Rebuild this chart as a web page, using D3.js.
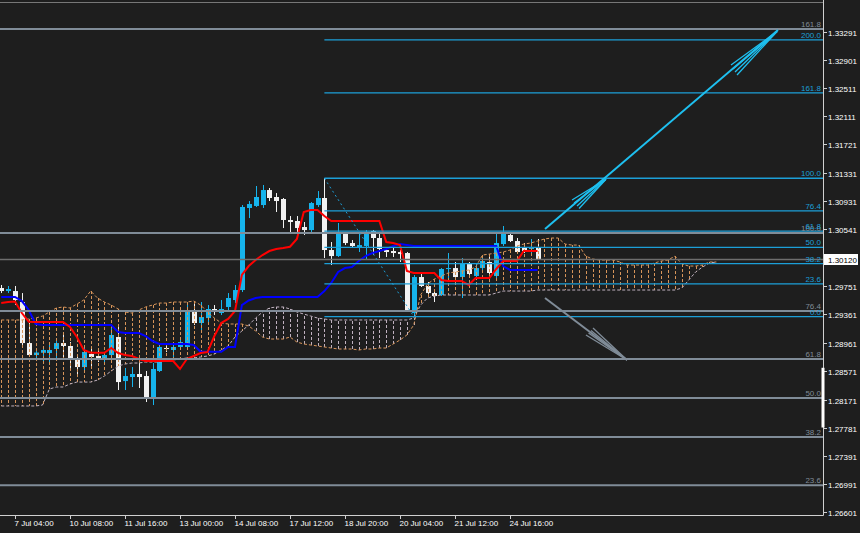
<!DOCTYPE html>
<html><head><meta charset="utf-8">
<script src="https://cdn.jsdelivr.net/npm/d3@7"></script>
<style>html,body{margin:0;padding:0;background:#1e1e1e;overflow:hidden}svg{display:block}</style>
</head><body><svg id="c" width="860" height="533"></svg>
<script>
// ---------- DATA (H4 bars, bar index 0 = 7 Jul 04:00) ----------
const firstBar = -2;
const timeLabels = ["7 Jul 04:00","10 Jul 08:00","11 Jul 16:00","13 Jul 00:00","14 Jul 08:00","17 Jul 12:00","18 Jul 20:00","20 Jul 04:00","21 Jul 12:00","24 Jul 16:00"];
const timeLabelBars = [0,8,16,24,32,40,48,56,64,72];

const openP = [1.29723,1.29681,1.29681,1.29528,1.28957,1.28790,1.28822,1.28818,1.28874,1.28957,
1.28916,1.28721,1.28623,1.28804,1.28777,1.28721,1.28790,1.29041,1.28428,1.28484,
1.28526,1.28498,1.28192,1.28568,1.28888,1.28860,1.28902,1.28902,1.29389,1.29236,
1.29305,1.29431,1.29375,1.29459,1.29556,1.29695,1.30837,1.30865,1.30878,1.31087,
1.30990,1.30962,1.30670,1.30656,1.30572,1.30530,1.30878,1.30976,1.30252,1.30168,
1.30475,1.30349,1.30294,1.30308,1.30517,1.30419,1.30252,1.30238,1.30224,1.30210,
1.29375,1.29876,1.29751,1.29653,1.29626,1.29988,1.30001,1.29876,1.30057,1.29890,
1.30001,1.30085,1.29890,1.30335,1.30461,1.30377,1.30280,1.30266,1.30280];
const highP = [1.29765,1.29751,1.29751,1.29653,1.29236,1.28860,1.28902,1.28930,1.29027,1.29097,
1.28971,1.28790,1.28902,1.28888,1.28860,1.28832,1.29180,1.29180,1.28610,1.28623,
1.28679,1.28568,1.28679,1.28957,1.28957,1.28957,1.29027,1.29528,1.29514,1.29528,
1.29486,1.29486,1.29556,1.29653,1.29765,1.30878,1.30934,1.31143,1.31157,1.31115,
1.31045,1.30976,1.30725,1.30725,1.30642,1.30920,1.31073,1.31254,1.30363,1.30628,
1.30503,1.30391,1.30489,1.30530,1.30530,1.30489,1.30294,1.30280,1.30252,1.30224,
1.29904,1.29946,1.29807,1.29695,1.30001,1.30210,1.30085,1.30141,1.30085,1.30071,
1.30155,1.30155,1.30475,1.30586,1.30489,1.30419,1.30349,1.30405,1.30405];
const lowP = [1.29653,1.29653,1.29486,1.28930,1.28763,1.28749,1.28679,1.28679,1.28749,1.28749,
1.28610,1.28484,1.28540,1.28623,1.28693,1.28679,1.28763,1.28303,1.28303,1.28345,
1.28331,1.28136,1.28094,1.28554,1.28832,1.28763,1.28874,1.28888,1.29208,1.29111,
1.29250,1.29347,1.29347,1.29417,1.29514,1.29667,1.30697,1.30851,1.30837,1.30934,
1.30781,1.30558,1.30489,1.30433,1.30461,1.30503,1.30851,1.30141,1.30043,1.30155,
1.30321,1.30280,1.30224,1.30113,1.30182,1.30141,1.30155,1.30155,1.30085,1.29389,
1.29319,1.29737,1.29626,1.29528,1.29612,1.29807,1.29834,1.29584,1.29876,1.29834,
1.29946,1.29904,1.29862,1.30308,1.30363,1.30210,1.30210,1.30182,1.30113];
const closeP = [1.29681,1.29709,1.29556,1.28957,1.28790,1.28825,1.28860,1.28860,1.28957,1.28916,
1.28749,1.28623,1.28832,1.28763,1.28735,1.28790,1.29069,1.28414,1.28498,1.28526,
1.28484,1.28206,1.28596,1.28902,1.28874,1.28902,1.28971,1.29389,1.29236,1.29319,
1.29431,1.29389,1.29431,1.29584,1.29695,1.30851,1.30892,1.30990,1.31087,1.30976,
1.30934,1.30670,1.30642,1.30558,1.30530,1.30906,1.30976,1.30252,1.30168,1.30475,
1.30349,1.30308,1.30321,1.30503,1.30419,1.30266,1.30224,1.30210,1.30196,1.29417,
1.29876,1.29751,1.29653,1.29612,1.29988,1.30001,1.29876,1.30071,1.29918,1.30001,
1.30099,1.29932,1.30349,1.30475,1.30377,1.30224,1.30238,1.30294,1.30120];

const tenkan = [1.29514,1.29528,1.29535,1.29375,1.29254,1.29250,1.29250,1.29250,1.29250,1.29250,
1.29180,1.29041,1.28860,1.28822,1.28822,1.28822,1.28888,1.28818,1.28790,1.28777,
1.28735,1.28707,1.28707,1.28707,1.28707,1.28707,1.28596,1.28735,1.28777,1.28818,
1.28832,1.29055,1.29236,1.29292,1.29403,1.29904,1.30029,1.30113,1.30182,1.30238,
1.30266,1.30280,1.30298,1.30405,1.30781,1.30809,1.30809,1.30725,1.30656,1.30656,
1.30656,1.30656,1.30656,1.30656,1.30656,1.30656,1.30363,1.30349,1.30321,1.29960,
1.29932,1.29932,1.29932,1.29932,1.29834,1.29820,1.29820,1.29820,1.29765,1.29862,
1.29862,1.29862,1.29988,1.30099,1.30099,1.30099,1.30238,1.30238,1.30238];
const kijun = [1.29598,1.29598,1.29598,1.29542,1.29417,1.29222,1.29208,1.29208,1.29208,1.29208,
1.29208,1.29208,1.29208,1.29208,1.29208,1.29208,1.29208,1.29111,1.29097,1.29097,
1.29097,1.29055,1.28985,1.28944,1.28944,1.28944,1.28944,1.28944,1.28930,1.28836,
1.28836,1.28836,1.28836,1.28902,1.28902,1.29486,1.29549,1.29584,1.29598,1.29598,
1.29598,1.29598,1.29598,1.29598,1.29598,1.29598,1.29598,1.29681,1.29793,1.29946,
1.30001,1.30015,1.30099,1.30168,1.30210,1.30238,1.30266,1.30308,1.30335,1.30321,
1.30308,1.30308,1.30308,1.30308,1.30308,1.30308,1.30308,1.30308,1.30308,1.30308,
1.30308,1.30308,1.30308,1.30029,1.29974,1.29974,1.29974,1.29974,1.29974];

// Senkou spans (already shifted 26 bars forward), bars -2 .. 102
const spanA = [1.29278,1.29278,1.29278,1.29278,1.29292,1.29305,1.29333,1.29389,1.29445,1.29459,
1.29445,1.29500,1.29556,1.29681,1.29584,1.29528,1.29486,1.29431,1.29389,1.29375,
1.29417,1.29459,1.29486,1.29514,1.29514,1.29528,1.29528,1.29528,1.29542,1.29486,
1.29389,1.29305,1.29236,1.29222,1.29222,1.29222,1.29194,1.29125,1.29041,1.29013,
1.29013,1.29013,1.29041,1.28971,1.28944,1.28930,1.28916,1.28902,1.28888,1.28874,
1.28874,1.28874,1.28860,1.28874,1.28874,1.28888,1.28888,1.28944,1.28999,1.29069,
1.29208,1.29626,1.29779,1.29848,1.29890,1.29932,1.29946,1.29960,1.29974,1.30015,
1.30182,1.30196,1.30210,1.30224,1.30252,1.30308,1.30335,1.30349,1.30377,1.30405,
1.30419,1.30419,1.30335,1.30321,1.30321,1.30168,1.30127,1.30113,1.30113,1.30113,
1.30085,1.30043,1.30043,1.30043,1.30043,1.30071,1.30099,1.30113,1.30168,1.30057,
1.30029,1.30029,1.30043,1.30085,1.30085];
const spanB = [1.28081,1.28081,1.28081,1.28081,1.28081,1.28081,1.28094,1.28317,1.28345,1.28345,
1.28387,1.28414,1.28414,1.28414,1.28442,1.28498,1.28568,1.28637,1.28665,1.28679,
1.28679,1.28693,1.28693,1.28693,1.28707,1.28721,1.28735,1.28749,1.28749,1.28763,
1.28777,1.28804,1.28860,1.28916,1.29041,1.29125,1.29208,1.29305,1.29389,1.29445,
1.29459,1.29459,1.29431,1.29389,1.29361,1.29333,1.29305,1.29292,1.29278,1.29278,
1.29278,1.29278,1.29278,1.29278,1.29278,1.29278,1.29278,1.29278,1.29278,1.29278,
1.29305,1.29486,1.29584,1.29612,1.29626,1.29626,1.29626,1.29626,1.29626,1.29626,
1.29626,1.29626,1.29653,1.29681,1.29681,1.29681,1.29681,1.29681,1.29695,1.29695,
1.29695,1.29695,1.29695,1.29695,1.29695,1.29695,1.29695,1.29695,1.29695,1.29695,
1.29695,1.29695,1.29695,1.29695,1.29695,1.29695,1.29695,1.29695,1.29695,1.29723,
1.29834,1.29946,1.30015,1.30071,1.30085];

const priceTicks = [1.33291,1.32901,1.32511,1.32111,1.31721,1.31331,1.30931,1.30541,1.29751,1.29361,1.28961,1.28571,1.28171,1.27781,1.27391,1.26991,1.26601];
const bidPrice = 1.30120;

// Fibonacci objects
const grayFibLevels = [0,23.6,38.2,50,61.8,76.4,100,161.8];
const grayFibP0 = 1.25895, grayFibP100 = 1.30489;
const cyanFibLevels = [0,23.6,38.2,50,61.8,76.4,100,161.8,200];
const cyanFibP0 = 1.29326, cyanFibP100 = 1.31251;
const cyanFibBar100 = 45, cyanFibBar0 = 58;

// Arrow objects: [bar, price] segments
const upArrow = [
  [[77.09,1.30544],[110.98,1.33314]],
  [[81.02,1.30948],[85.96,1.31237]],[[81.31,1.30906],[85.96,1.31237]],
  [[81.75,1.30865],[85.96,1.31237]],[[82.04,1.30830],[85.96,1.31237]],
  [[104.15,1.32827],[110.84,1.33294]],[[104.44,1.32772],[110.84,1.33294]],
  [[104.73,1.32730],[110.84,1.33294]],[[105.02,1.32688],[110.84,1.33294]]
];
const downArrow = [
  [[77.09,1.29584],[89.02,1.28721]],
  [[84.07,1.29166],[89.02,1.28721]],[[83.78,1.29131],[89.02,1.28721]],
  [[83.42,1.29097],[89.02,1.28721]],[[83.05,1.29069],[89.02,1.28721]]
];

// ---------- DRAW ----------
const svg = d3.select("#c");
const plotR = 823, plotB = 515;
const FONT = "'Liberation Sans', Arial, sans-serif";
const C = {bg:"#1e1e1e", bull:"#16b4ec", bear:"#f2f2f2", sandy:"#d8955a", thistle:"#c0b2c0",
  tenkan:"#ff0000", kijun:"#0000ff", gray:"#808c98", cyan:"#1c9fd8", arrow:"#1ec0f0", axis:"#d0d0d0", bid:"#6e6e6e"};

const x = d3.scaleLinear().domain([0,72]).range([15,510]);
const y = d3.scaleLinear().domain([1.33291,1.26601]).range([31.7,512.3]);
const px = k => Math.round(x(k)) + 0.5;

svg.append("rect").attr("width",860).attr("height",533).attr("fill",C.bg);
svg.append("defs").append("clipPath").attr("id","plot").append("rect")
  .attr("x",0).attr("y",0).attr("width",plotR).attr("height",plotB);
const g = svg.append("g").attr("clip-path","url(#plot)");

// top frame line
g.append("line").attr("x1",0).attr("x2",plotR).attr("y1",2.5).attr("y2",2.5).attr("stroke","#777").attr("stroke-width",1);

// candles
const candles = openP.map((o,i)=>({k:firstBar+i,o,h:highP[i],l:lowP[i],c:closeP[i]}));
const gc = g.append("g");
gc.selectAll("line").data(candles).join("line")
  .attr("x1",d=>px(d.k)).attr("x2",d=>px(d.k))
  .attr("y1",d=>y(d.h)).attr("y2",d=>y(d.l))
  .attr("stroke",d=>d.c>=d.o?C.bull:C.bear).attr("stroke-width",1);
gc.selectAll("rect").data(candles).join("rect")
  .attr("x",d=>px(d.k)-2.5).attr("width",5)
  .attr("y",d=>y(Math.max(d.o,d.c)))
  .attr("height",d=>Math.max(1,y(Math.min(d.o,d.c))-y(Math.max(d.o,d.c))))
  .attr("fill",d=>d.c>=d.o?C.bull:C.bear);

// Ichimoku cloud
const cloud = spanA.map((a,i)=>({k:firstBar+i,a,b:spanB[i]}));
g.append("g").selectAll("line").data(cloud).join("line")
  .attr("x1",d=>px(d.k)).attr("x2",d=>px(d.k))
  .attr("y1",d=>y(d.a)).attr("y2",d=>y(d.b))
  .attr("stroke",d=>d.a>=d.b?C.sandy:C.thistle).attr("stroke-width",1)
  .attr("stroke-dasharray","3,2");
g.append("path").datum(cloud).attr("fill","none").attr("stroke",C.sandy).attr("stroke-width",1)
  .attr("stroke-dasharray","3,2").attr("d",d3.line().x(d=>x(d.k)).y(d=>y(d.a)));
g.append("path").datum(cloud).attr("fill","none").attr("stroke",C.thistle).attr("stroke-width",1)
  .attr("stroke-dasharray","3,2").attr("d",d3.line().x(d=>x(d.k)).y(d=>y(d.b)));

// Tenkan / Kijun
const lineGen = d3.line().x((d,i)=>x(firstBar+i)).y(d=>y(d));
g.append("path").datum(kijun).attr("fill","none").attr("stroke",C.kijun).attr("stroke-width",2).attr("d",lineGen);
g.append("path").datum(tenkan).attr("fill","none").attr("stroke",C.tenkan).attr("stroke-width",2).attr("d",lineGen);

// gray Fibonacci (full width)
grayFibLevels.forEach(l=>{
  const p = grayFibP0 + (grayFibP100-grayFibP0)*l/100;
  g.append("line").attr("x1",0).attr("x2",plotR).attr("y1",y(p)).attr("y2",y(p))
    .attr("stroke",C.gray).attr("stroke-width",2);
});
// bid line
g.append("line").attr("x1",0).attr("x2",plotR).attr("y1",y(bidPrice)).attr("y2",y(bidPrice))
  .attr("stroke",C.bid).attr("stroke-width",1.5);

// cyan Fibonacci
cyanFibLevels.forEach(l=>{
  const p = cyanFibP0 + (cyanFibP100-cyanFibP0)*l/100;
  g.append("line").attr("x1",x(cyanFibBar100)).attr("x2",plotR).attr("y1",y(p)).attr("y2",y(p))
    .attr("stroke",C.cyan).attr("stroke-width",1.3);
});
g.append("line").attr("x1",x(cyanFibBar100)).attr("y1",y(cyanFibP100))
  .attr("x2",x(cyanFibBar0)).attr("y2",y(cyanFibP0))
  .attr("stroke",C.cyan).attr("stroke-width",1).attr("stroke-dasharray","2,3");

// arrows
upArrow.forEach((s,i)=>{
  g.append("line").attr("x1",x(s[0][0])).attr("y1",y(s[0][1])).attr("x2",x(s[1][0])).attr("y2",y(s[1][1]))
    .attr("stroke",C.arrow).attr("stroke-width",i===0?2:1.3);
});
downArrow.forEach((s,i)=>{
  g.append("line").attr("x1",x(s[0][0])).attr("y1",y(s[0][1])).attr("x2",x(s[1][0])).attr("y2",y(s[1][1]))
    .attr("stroke",C.gray).attr("stroke-width",i===0?2:1.3);
});

// fib labels
const lab = svg.append("g").attr("font-family",FONT).attr("font-size","8px").attr("text-anchor","end");
grayFibLevels.forEach(l=>{
  const p = grayFibP0 + (grayFibP100-grayFibP0)*l/100;
  if (y(p) < plotB) lab.append("text").attr("x",821).attr("y",y(p)-2).attr("fill",C.gray).text(l.toFixed(1));
});
cyanFibLevels.forEach(l=>{
  const p = cyanFibP0 + (cyanFibP100-cyanFibP0)*l/100;
  lab.append("text").attr("x",821).attr("y",y(p)-2).attr("fill",C.cyan).text(l.toFixed(1));
});

// axes
const ax = svg.append("g").attr("font-family",FONT).attr("font-size","8px");
ax.append("line").attr("x1",plotR+0.5).attr("x2",plotR+0.5).attr("y1",0).attr("y2",plotB+0.5).attr("stroke",C.axis);
ax.append("line").attr("x1",0).attr("x2",plotR+0.5).attr("y1",plotB+0.5).attr("y2",plotB+0.5).attr("stroke",C.axis);
priceTicks.forEach(p=>{
  const yy = Math.round(y(p))+0.5;
  ax.append("line").attr("x1",plotR).attr("x2",plotR+4).attr("y1",yy).attr("y2",yy).attr("stroke",C.axis);
  ax.append("text").attr("x",plotR+5).attr("y",yy+3).attr("fill","#ffffff").text(p.toFixed(5));
});
timeLabelBars.forEach((b,i)=>{
  const xx = px(b);
  ax.append("line").attr("x1",xx).attr("x2",xx).attr("y1",plotB).attr("y2",plotB+4).attr("stroke",C.axis);
  ax.append("text").attr("x",xx-1).attr("y",526).attr("fill","#ffffff").text(timeLabels[i]);
});
// bid price box
ax.append("rect").attr("x",plotR+1).attr("y",y(bidPrice)-5.5).attr("width",34).attr("height",11).attr("fill","#ffffff");
ax.append("text").attr("x",plotR+5).attr("y",y(bidPrice)+3).attr("fill","#000").text(bidPrice.toFixed(5));
// visible-range marker on the price axis
ax.append("rect").attr("x",plotR-1.5).attr("y",y(1.28571)-3).attr("width",3).attr("height",y(1.27781)-y(1.28571)+3).attr("fill","#ffffff");
</script>
</body></html>
